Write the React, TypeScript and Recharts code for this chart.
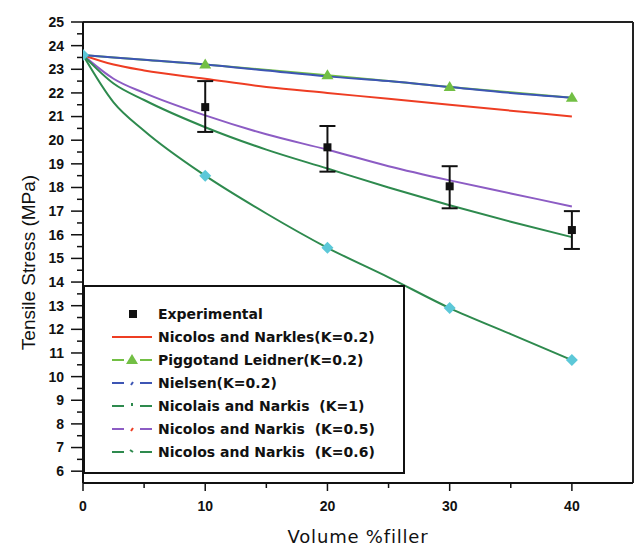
import { LineChart, Line, XAxis, YAxis, ErrorBar, ReferenceLine, Legend } from "recharts";

const VOLUME = [0, 2.5, 5, 10, 15, 20, 25, 30, 35, 40];
const NICOLAIS_K02 = [23.6, 23.2, 22.95, 22.6, 22.25, 22.0, 21.75, 21.5, 21.25, 21.0];
const NIELSEN_K02 = [23.6, 23.5, 23.4, 23.2, 22.95, 22.7, 22.5, 22.25, 22.0, 21.8];
const NICOLAIS_K1 = [23.6, 21.6, 20.4, 18.5, 16.9, 15.45, 14.2, 12.9, 11.8, 10.7];
const NICOLAIS_K05 = [23.6, 22.6, 22.0, 21.05, 20.25, 19.6, 18.9, 18.3, 17.75, 17.2];
const NICOLAIS_K06 = [23.6, 22.4, 21.7, 20.55, 19.6, 18.8, 18.0, 17.25, 16.55, 15.9];

// Piggot & Leidner, only at the measured fractions
const PIGGOT_X = [0, 10, 20, 30, 40];
const PIGGOT_K02 = [23.6, 23.2, 22.75, 22.25, 21.8];

// experimental means with [below, above] error
const EXP_X = [10, 20, 30, 40];
const EXP_MEAN = [21.4, 19.7, 18.05, 16.2];
const EXP_ERR: [number, number][] = [[1.05, 1.1], [1.03, 0.9], [0.93, 0.85], [0.8, 0.8]];

const X_TICKS = [0, 5, 10, 15, 20, 25, 30, 35, 40];
const Y_TICKS = Array.from({ length: 39 }, (_, i) => 6 + i * 0.5);

const LABELS = [
  "Experimental",
  "Nicolos and Narkles(K=0.2)",
  "Piggotand Leidner(K=0.2)",
  "Nielsen(K=0.2)",
  "Nicolais and Narkis  (K=1)",
  "Nicolos and Narkis  (K=0.5)",
  "Nicolos and Narkis  (K=0.6)",
];

const RED = "#ee3d23";
const LIGHT_GREEN = "#72bf44";
const BLUE = "#3d55b4";
const DARK_GREEN = "#2e8a4e";
const PURPLE = "#8c5cc4";
const CYAN = "#5cc8d8";

const curveData = VOLUME.map((x, i) => ({
  x,
  nic02: NICOLAIS_K02[i],
  nielsen: NIELSEN_K02[i],
  k1: NICOLAIS_K1[i],
  k05: NICOLAIS_K05[i],
  k06: NICOLAIS_K06[i],
}));
const piggotData = PIGGOT_X.map((x, i) => ({ x, piggot: PIGGOT_K02[i] }));
const expData = EXP_X.map((x, i) => ({ x, exp: EXP_MEAN[i], err: EXP_ERR[i] }));

const FONT = "Arial, 'Liberation Sans', sans-serif";

function YTick({ x, y, payload }: any) {
  const major = Number.isInteger(payload.value);
  return (
    <g>
      <line x1={x - (major ? 12 : 6)} x2={x} y1={y} y2={y} stroke="#111" strokeWidth={1.5} />
      {major && (
        <text x={x - 19} y={y} dy="0.35em" textAnchor="end" fontSize={14} fontWeight={600} fontFamily={FONT} fill="#111">
          {payload.value}
        </text>
      )}
    </g>
  );
}

function XTick({ x, y, payload }: any) {
  const major = payload.value % 10 === 0;
  return (
    <g>
      <line x1={x} x2={x} y1={y} y2={y + (major ? 8 : 5)} stroke="#111" strokeWidth={1.5} />
      {major && (
        <text x={x} y={y + 23} dy="0.35em" textAnchor="middle" fontSize={14} fontWeight={600} fontFamily={FONT} fill="#111">
          {payload.value}
        </text>
      )}
    </g>
  );
}

function TriangleDot({ cx, cy, payload }: any) {
  if (cx == null || cy == null || payload.x === 0) return <g />;
  return <polygon points={`${cx},${cy - 6} ${cx - 6},${cy + 4} ${cx + 6},${cy + 4}`} fill={LIGHT_GREEN} />;
}

function DiamondDot({ cx, cy, payload }: any) {
  if (cx == null || cy == null || payload.x % 10 !== 0) return <g />;
  return <polygon points={`${cx},${cy - 6} ${cx + 6},${cy} ${cx},${cy + 6} ${cx - 6},${cy}`} fill={CYAN} />;
}

function SquareDot({ cx, cy }: any) {
  if (cx == null || cy == null) return <g />;
  return <rect x={cx - 4} y={cy - 4} width={8} height={8} fill="#111" />;
}

function Symbol({ i }: { i: number }) {
  const dash = (c: string, mark: React.ReactNode) => (
    <>
      <line x1={0} x2={12} y1={6} y2={6} stroke={c} strokeWidth={2} />
      {mark}
      <line x1={28} x2={40} y1={6} y2={6} stroke={c} strokeWidth={2} />
    </>
  );
  let body: React.ReactNode = null;
  if (i === 0) body = <rect x={17} y={2} width={8} height={8} fill="#111" />;
  if (i === 1) body = <line x1={0} x2={40} y1={6} y2={6} stroke={RED} strokeWidth={2} />;
  if (i === 2) body = dash(LIGHT_GREEN, <polygon points="20,0 14,10 26,10" fill={LIGHT_GREEN} />);
  if (i === 3) body = dash(BLUE, <line x1={21} x2={19} y1={5} y2={8} stroke={BLUE} strokeWidth={2} />);
  if (i === 4) body = dash(DARK_GREEN, <line x1={20} x2={20} y1={3} y2={6} stroke={DARK_GREEN} strokeWidth={2} />);
  if (i === 5) body = dash(PURPLE, <line x1={21} x2={19} y1={5} y2={8} stroke={RED} strokeWidth={2} />);
  if (i === 6) body = dash(DARK_GREEN, <line x1={18} x2={21} y1={4} y2={6} stroke={DARK_GREEN} strokeWidth={2} />);
  return (
    <svg width={40} height={12} style={{ display: "block" }}>
      {body}
    </svg>
  );
}

function LegendBox() {
  return (
    <div
      style={{
        width: 322,
        height: 189,
        boxSizing: "border-box",
        border: "2px solid #111",
        background: "#fff",
        paddingTop: 15,
        fontFamily: "'DejaVu Sans', sans-serif",
        fontSize: 14,
        fontWeight: 700,
        color: "#111",
      }}
    >
      {LABELS.map((label, i) => (
        <div key={label} style={{ display: "flex", alignItems: "center", height: 23 }}>
          <div style={{ width: 27 }} />
          <Symbol i={i} />
          <div style={{ width: 6 }} />
          <span style={{ whiteSpace: "pre" }}>{label}</span>
        </div>
      ))}
    </div>
  );
}

export default function App() {
  return (
    <div style={{ position: "absolute", left: 0, top: 0, width: 635, height: 548, background: "#fff" }}>
      <LineChart width={635} height={548} margin={{ top: 22, right: 2, bottom: 0, left: 0 }}>
        <XAxis
          dataKey="x"
          type="number"
          domain={[0, 45]}
          allowDataOverflow
          ticks={X_TICKS}
          interval={0}
          height={65}
          tickLine={false}
          tickSize={0}
          tickMargin={0}
          tick={<XTick />}
          axisLine={{ stroke: "#111", strokeWidth: 2 }}
          label={{
            content: ({ viewBox }: any) => (
              <text
                x={viewBox.x + viewBox.width / 2}
                y={viewBox.y + 54}
                dy="0.35em"
                textAnchor="middle"
                fontSize={18}
                fontFamily="'DejaVu Sans', sans-serif"
                letterSpacing={0.8}
                fill="#111"
              >
                Volume %filler
              </text>
            ),
          }}
        />
        <YAxis
          type="number"
          domain={[5.5, 25]}
          allowDataOverflow
          ticks={Y_TICKS}
          interval={0}
          width={83}
          tickLine={false}
          tickSize={0}
          tickMargin={0}
          tick={<YTick />}
          axisLine={{ stroke: "#111", strokeWidth: 2 }}
          label={{
            content: ({ viewBox }: any) => {
              const cx = viewBox.x + 28;
              const cy = viewBox.y + viewBox.height / 2 + 10;
              return (
                <text
                  x={cx}
                  y={cy}
                  dy="0.35em"
                  textAnchor="middle"
                  transform={`rotate(-90, ${cx}, ${cy})`}
                  fontSize={19}
                  fontFamily={FONT}
                  fill="#111"
                >
                  Tensile Stress (MPa)
                </text>
              );
            },
          }}
        />
        <ReferenceLine y={25} stroke="#222" strokeWidth={2} />
        <ReferenceLine x={45} stroke="#222" strokeWidth={2} />

        <Line data={curveData} dataKey="nic02" type="monotone" stroke={RED} strokeWidth={2} dot={false} isAnimationActive={false} />
        <Line data={piggotData} dataKey="piggot" type="monotone" stroke={LIGHT_GREEN} strokeWidth={2} dot={false} isAnimationActive={false} />
        <Line data={curveData} dataKey="nielsen" type="monotone" stroke={BLUE} strokeWidth={2} dot={false} isAnimationActive={false} />
        <Line data={curveData} dataKey="k05" type="monotone" stroke={PURPLE} strokeWidth={2} dot={false} isAnimationActive={false} />
        <Line data={curveData} dataKey="k06" type="monotone" stroke={DARK_GREEN} strokeWidth={2} dot={false} isAnimationActive={false} />
        <Line data={curveData} dataKey="k1" type="monotone" stroke={DARK_GREEN} strokeWidth={2} dot={<DiamondDot />} isAnimationActive={false} />
        <Line data={piggotData} dataKey="piggot" stroke="none" dot={<TriangleDot />} isAnimationActive={false} />
        <Line data={expData} dataKey="exp" stroke="none" dot={<SquareDot />} isAnimationActive={false}>
          <ErrorBar dataKey="err" direction="y" width={8} stroke="#111" strokeWidth={2} />
        </Line>

        <Legend
          layout="vertical"
          align="center"
          verticalAlign="middle"
          wrapperStyle={{ left: 83, top: 285, width: 322, height: 189 }}
          content={() => <LegendBox />}
        />
      </LineChart>
    </div>
  );
}
